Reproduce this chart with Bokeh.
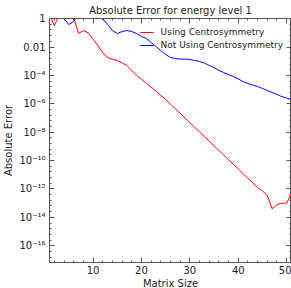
from bokeh.plotting import figure
from bokeh.models import (Range1d, FixedTicker, LinearAxis, LogAxis, CustomJSTickFormatter,
                          Legend, LegendItem)
from bokeh.embed import file_html
from bokeh.resources import INLINE

matrix_size = list(range(1, 52))

using_centro = [2.0, 0.32, 1.8, 2.5, 2.5, 1.2, 0.089, 0.145, 0.1, 0.035,
                0.0126, 0.004, 1.78e-3, 1.38e-3, 1.12e-3, 7.6e-4, 5.0e-4, 2.24e-4, 1.0e-4, 5.2e-5,
                2.8e-5, 1.5e-5, 7.9e-6, 4.0e-6, 2.0e-6, 9.3e-7, 4.5e-7, 2.1e-7, 1.0e-7, 4.7e-8,
                2.2e-8, 1.05e-8, 4.9e-9, 2.3e-9, 1.1e-9, 5.1e-10, 2.45e-10, 1.15e-10, 5.4e-11, 2.6e-11,
                1.2e-11, 5.6e-12, 2.7e-12, 1.26e-12, 7.1e-13, 3.5e-13, 4.0e-14, 7.9e-14, 1.0e-13, 1.0e-13,
                5.0e-13]

not_using_centro = [3.0, 3.0, 2.0, 1.0, 0.38, 0.63, 2.0, 3.0, 3.0, 3.0,
                    2.0, 1.0, 0.38, 0.145, 0.089, 0.123, 0.145, 0.123, 0.089, 0.055,
                    0.04, 0.021, 0.011, 5.6e-3, 2.95e-3, 1.82e-3, 1.55e-3, 1.41e-3, 1.41e-3, 1.32e-3,
                    1.12e-3, 9.5e-4, 7.4e-4, 5.0e-4, 3.6e-4, 2.24e-4, 1.58e-4, 1.15e-4, 8.3e-5, 5.6e-5,
                    3.7e-5, 2.7e-5, 2.1e-5, 1.66e-5, 1.2e-5, 8.7e-6, 6.3e-6, 4.5e-6, 3.2e-6, 2.5e-6,
                    2.0e-6]

x_major = [10, 20, 30, 40, 50]
x_minor = [2, 4, 6, 8, 12, 14, 16, 18, 22, 24, 26, 28, 32, 34, 36, 38, 42, 44, 46, 48, 50]
y_major_exp = [0, -2, -4, -6, -8, -10, -12, -14, -16]

FONT = "DejaVu Sans"
AX_COL = "#555555"

p = figure(frame_width=242, frame_height=244, output_backend="svg", toolbar_location=None,
           y_axis_type="log", x_range=Range1d(1, 51), y_range=Range1d(6.6e-18, 1.02),
           title="Absolute Error for energy level 1",
           min_border_left=40, min_border_right=0, min_border_top=15, min_border_bottom=24)

p.title.text_font = FONT
p.title.text_font_size = "10px"
p.title.text_font_style = "normal"
p.title.align = "center"
p.title.text_color = "#222222"
p.title.offset = 0
p.title.standoff = 5

p.grid.visible = False
p.outline_line_color = AX_COL
p.background_fill_color = "white"

y_major = [10.0 ** e for e in y_major_exp]
y_minor = [10.0 ** (-0.4 * k) for k in range(0, 44)]

fmt_js = """
const e = Math.round(Math.log10(tick));
if (e == 0) return "1";
if (e == -2) return "0.01";
const sup = {"-":"\\u207b","0":"\\u2070","1":"\\u00b9","2":"\\u00b2","3":"\\u00b3","4":"\\u2074","5":"\\u2075","6":"\\u2076","7":"\\u2077","8":"\\u2078","9":"\\u2079"};
return "10" + String(e).split("").map(c => sup[c]).join("");
"""

def style(ax, labels=True):
    ax.axis_line_color = AX_COL
    ax.major_tick_line_color = AX_COL
    ax.minor_tick_line_color = AX_COL
    ax.major_tick_in = 5
    ax.major_tick_out = 0
    ax.minor_tick_in = 2
    ax.minor_tick_out = 0
    ax.major_label_text_font = FONT
    ax.major_label_text_color = "#222222"
    ax.axis_label_text_font = FONT
    ax.axis_label_text_font_style = "normal"
    ax.axis_label_text_color = "#222222"
    ax.axis_label_text_font_size = "10px"
    if labels:
        ax.major_label_text_font_size = "10px"
    else:
        ax.formatter = CustomJSTickFormatter(code="return '';")
        ax.major_label_text_font_size = "1px"
        ax.major_label_text_color = None
        ax.major_label_standoff = 0

xb = p.xaxis[0]
xb.ticker = FixedTicker(ticks=x_major, minor_ticks=x_minor)
xb.axis_label = "Matrix Size"
xb.major_label_standoff = 3
xb.axis_label_standoff = 1
style(xb)

yl = p.yaxis[0]
yl.ticker = FixedTicker(ticks=y_major, minor_ticks=y_minor)
yl.formatter = CustomJSTickFormatter(code=fmt_js)
yl.axis_label = "Absolute Error"
yl.major_label_standoff = 4
yl.axis_label_standoff = 2
style(yl)

xt = LinearAxis(ticker=FixedTicker(ticks=x_major, minor_ticks=x_minor))
style(xt, labels=False)
p.add_layout(xt, "above")
yr = LogAxis(ticker=FixedTicker(ticks=y_major, minor_ticks=y_minor))
style(yr, labels=False)
p.add_layout(yr, "right")

r1 = p.line(matrix_size, using_centro, line_color="#ff0000", line_width=1)
r2 = p.line(matrix_size, not_using_centro, line_color="#0000ff", line_width=1)

legend = Legend(items=[LegendItem(label="Using Centrosymmetry", renderers=[r1]),
                       LegendItem(label="Not Using Centrosymmetry", renderers=[r2])],
                location="top_right")
legend.background_fill_alpha = 0
legend.border_line_color = None
legend.label_text_font = FONT
legend.label_text_font_size = "9px"
legend.label_text_color = "#222222"
legend.glyph_width = 14
legend.glyph_height = 12
legend.label_height = 12
legend.label_standoff = 7
legend.spacing = 1
legend.padding = 4
legend.margin = 8
p.add_layout(legend, "center")

open("out.html", "w").write(file_html(p, INLINE))
